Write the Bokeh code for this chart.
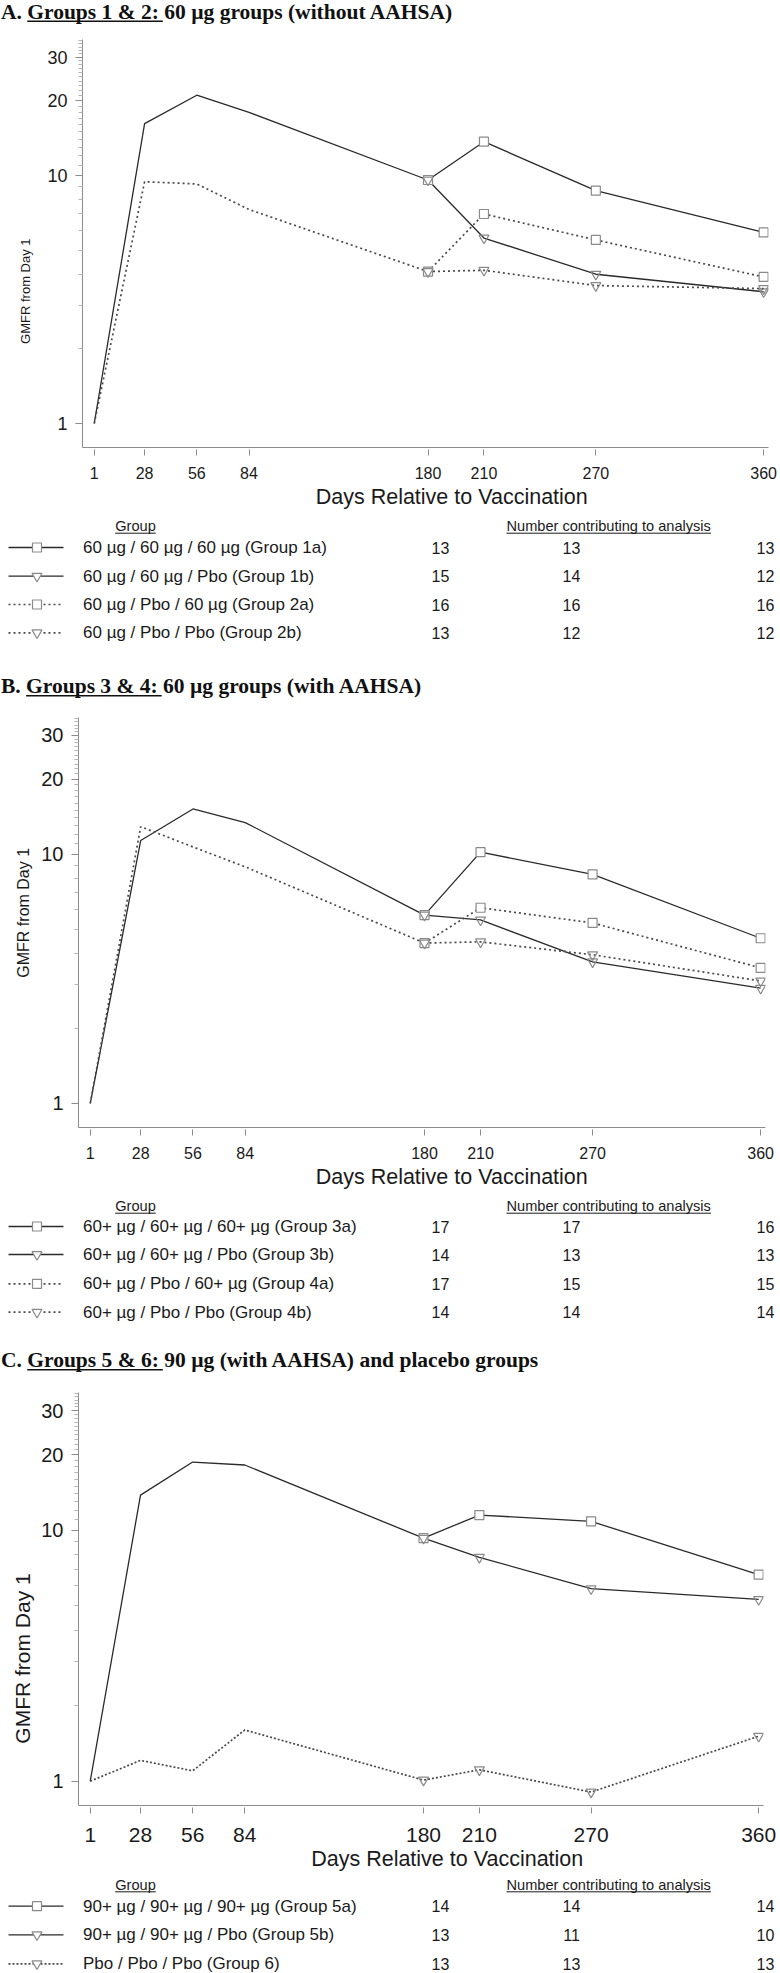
from bokeh.plotting import figure
from bokeh.models import Range1d, FixedTicker, NumeralTickFormatter, Title
from bokeh.layouts import column, row
from bokeh.embed import file_html
from bokeh.resources import INLINE
from bokeh.core.properties import value

# ------------------------------------------------------------------ data
tick_days = [1, 28, 56, 84, 180, 210, 270, 360]
days_pre = [1, 28, 56, 84, 180]
days_post = [180, 210, 270, 360]
days_all = [1, 28, 56, 84, 180, 210, 270, 360]
y_major = [1, 10, 20, 30]
y_minor = [2, 3, 4, 5, 6, 7, 8, 9, 11, 12, 13, 14, 15, 16, 17, 18, 19,
           21, 22, 23, 24, 25, 26, 27, 28, 29, 31, 32, 33, 34, 35]

# Panel A : Groups 1 & 2
g1 = [1.0, 16.2, 21.1, 18.0, 9.6]
g1a = [9.6, 13.7, 8.7, 5.9]
g1b = [9.6, 5.6, 4.0, 3.4]
g2 = [1.0, 9.45, 9.25, 7.3, 4.1]
g2a = [4.1, 7.0, 5.5, 3.9]
g2b = [4.1, 4.15, 3.6, 3.5]

# Panel B : Groups 3 & 4
g3 = [1.0, 11.35, 15.2, 13.4, 5.7]
g3a = [5.7, 10.2, 8.3, 4.6]
g3b = [5.7, 5.45, 3.7, 2.9]
g4 = [1.0, 12.9, 10.7, 8.9, 4.4]
g4a = [4.4, 6.1, 5.3, 3.5]
g4b = [4.4, 4.45, 3.95, 3.1]

# Panel C : Groups 5 & 6
g5 = [1.0, 13.8, 18.7, 18.2, 9.3]
g5a = [9.3, 11.5, 10.85, 6.65]
g5b = [9.3, 7.8, 5.85, 5.3]
g6 = [1.0, 1.21, 1.10, 1.60, 1.01, 1.11, 0.905, 1.51]

titles = ["A. Groups 1 & 2:  60 \u00b5g groups (without AAHSA)",
          "B. Groups 3 & 4:  60 \u00b5g groups (with AAHSA)",
          "C. Groups 5 & 6: 90 \u00b5g (with AAHSA) and placebo groups"]

labels_a = ["60 \u00b5g / 60 \u00b5g / 60 \u00b5g (Group 1a)",
            "60 \u00b5g / 60 \u00b5g / Pbo (Group 1b)",
            "60 \u00b5g / Pbo / 60 \u00b5g (Group 2a)",
            "60 \u00b5g / Pbo / Pbo (Group 2b)"]
na1 = [13, 15, 16, 13]
na2 = [13, 14, 16, 12]
na3 = [13, 12, 16, 12]

labels_b = ["60+ \u00b5g / 60+ \u00b5g / 60+ \u00b5g (Group 3a)",
            "60+ \u00b5g / 60+ \u00b5g / Pbo (Group 3b)",
            "60+ \u00b5g / Pbo  / 60+ \u00b5g (Group 4a)",
            "60+ \u00b5g / Pbo  / Pbo (Group 4b)"]
nb1 = [17, 14, 17, 14]
nb2 = [17, 13, 15, 14]
nb3 = [16, 13, 15, 14]

labels_c = ["90+ \u00b5g / 90+ \u00b5g / 90+ \u00b5g (Group 5a)",
            "90+ \u00b5g / 90+ \u00b5g / Pbo (Group 5b)",
            "Pbo / Pbo / Pbo (Group 6)"]
nc1 = [14, 13, 13]
nc2 = [14, 11, 13]
nc3 = [14, 10, 13]

x_label = "Days Relative to Vaccination"
y_label = "GMFR from Day 1"

# ------------------------------------------------------------------ layout helpers
W = 780
X_MIN, X_MAX = -5.3, 362.6
Y_MIN, Y_MAX = 0.8, 35.4

SOLID = dict(line_color="#2a2a2a", line_width=1.3)
DOT = dict(line_color="#4a4a4a", line_width=1.7, line_dash="2 3")
MK = "#8a8a8a"
TXT = "#1a1a1a"
SANS = "Liberation Sans"


def bare(H):
    p = figure(width=W, height=H, x_range=Range1d(0, W), y_range=Range1d(H, 0),
               output_backend="svg", toolbar_location=None, title=None,
               x_axis_location=None, y_axis_location=None,
               min_border=0, min_border_left=0, min_border_right=0,
               min_border_top=0, min_border_bottom=0)
    p.grid.visible = False
    p.outline_line_color = None
    return p


def title_fig(top, bot, text, base, ul, ul_start_em):
    H = bot - top
    p = bare(H)
    fs = 21.5
    # 'middle' baseline: em-box centre sits ~0.34 em above the baseline
    p.text(x=[0.5], y=[base - top - 0.34 * fs], text=[text],
           text_font=value("Liberation Serif"), text_font_style="bold",
           text_font_size="%.1fpx" % fs, text_baseline="middle",
           text_align="left", text_color="#111111")
    u0 = 0.5 + ul_start_em * fs
    u1 = u0 + 6.306 * fs
    uy = ul - top
    p.segment(x0=[u0], y0=[uy], x1=[u1], y1=[uy], line_color="#111111", line_width=1.5)
    return p


def plot_fig(top, bot, f_top, f_bot, f_left, f_right,
             ytick_fs, xtick_fs, ylab_fs, ylab_center, xlab_center,
             xstand, tstand, ystand, yadj):
    H = bot - top
    bt = round(f_top) - top
    bb = bot - round(f_bot)
    bl = round(f_left)
    br = W - round(f_right)
    p = figure(width=W, height=H, x_range=Range1d(X_MIN, X_MAX),
               y_range=Range1d(Y_MIN, Y_MAX), y_axis_type="log",
               output_backend="svg", toolbar_location=None, title=None,
               min_border_top=bt, min_border_bottom=bb,
               min_border_left=bl, min_border_right=br)
    p.grid.visible = False
    p.outline_line_color = None

    xa = p.xaxis[0]
    xa.ticker = FixedTicker(ticks=tick_days, minor_ticks=[])
    xa.axis_line_color = "#8c8c8c"
    xa.major_tick_line_color = "#8c8c8c"
    xa.major_tick_in = -2
    xa.major_tick_out = 8
    xa.minor_tick_line_color = None
    xa.major_label_standoff = xstand
    xa.major_label_text_font = SANS
    xa.major_label_text_font_size = "%dpx" % xtick_fs
    xa.major_label_text_color = TXT

    ya = p.yaxis[0]
    ya.ticker = FixedTicker(ticks=y_major, minor_ticks=y_minor)
    ya.formatter = NumeralTickFormatter(format="0")
    ya.axis_line_color = "#8c8c8c"
    ya.major_tick_line_color = "#8c8c8c"
    ya.minor_tick_line_color = "#b5b5b5"
    ya.major_tick_in = 0
    ya.major_tick_out = 7
    ya.minor_tick_in = 0
    ya.minor_tick_out = 4
    ya.major_label_standoff = 8
    ya.major_label_text_font = SANS
    ya.major_label_text_font_size = "%dpx" % ytick_fs
    ya.major_label_text_color = TXT

    # x axis title (below), positioned along the frame
    xl_len = 12.727 * 21.5
    xoff = xlab_center - xl_len / 2 - round(f_left)
    p.add_layout(Title(text=x_label, align="left", offset=xoff,
                       text_font=SANS, text_font_style="normal",
                       text_font_size="21.5px", text_color=TXT, standoff=tstand), "below")

    # y axis title (left)
    yl_len = 8.11 * ylab_fs
    yoff = (f_bot - ylab_center) - yl_len / 2 + yadj
    p.add_layout(Title(text=y_label, align="left", offset=yoff,
                       text_font=SANS, text_font_style="normal",
                       text_font_size="%dpx" % ylab_fs, text_color=TXT,
                       standoff=ystand), "left")
    return p


def add_group(p, pre, post_a, post_b, solid=True):
    st = SOLID if solid else DOT
    p.line(days_pre, pre, **st)
    p.line(days_post, post_a, **st)
    p.line(days_post, post_b, **st)
    p.scatter(days_post, post_a, marker="square", size=9,
              fill_color="white", line_color=MK, line_width=1.2)
    p.scatter(days_post, post_b, marker="inverted_triangle", size=10,
              fill_alpha=0, line_color=MK, line_width=1.2)


def legend_fig(top, bot, head_base, rows, labels, n1, n2, n3, styles):
    H = bot - top
    p = bare(H)
    hfs = 14.6
    hb = head_base - top
    hm = hb - 0.34 * hfs
    gx = 135
    p.text(x=[gx], y=[hm], text=["Group"], text_font=value(SANS),
           text_font_size="%.1fpx" % hfs, text_align="center",
           text_baseline="middle", text_color=TXT)
    gw = 2.779 * hfs
    p.segment(x0=[gx - gw / 2], y0=[hb + 2], x1=[gx + gw / 2], y1=[hb + 2],
              line_color=TXT, line_width=1)
    nx = 506
    p.text(x=[nx], y=[hm], text=["Number contributing to analysis"],
           text_font=value(SANS), text_font_size="%.1fpx" % hfs,
           text_align="left", text_baseline="middle", text_color=TXT)
    nw = 14.005 * hfs
    p.segment(x0=[nx], y0=[hb + 2], x1=[nx + nw], y1=[hb + 2],
              line_color=TXT, line_width=1)

    ys = [r - top for r in rows]
    p.text(x=[82.5] * len(ys), y=ys, text=labels, text_font=value(SANS),
           text_font_size="17px", text_align="left", text_baseline="middle",
           text_color=TXT)
    for col, vals in ((440, n1), (571, n2), (765, n3)):
        p.text(x=[col] * len(ys), y=ys, text=[str(v) for v in vals],
               text_font=value(SANS), text_font_size="16px", text_align="center",
               text_baseline="middle", text_color=TXT)
    for yy, (solid, mk, dash) in zip(ys, styles):
        st = dict(SOLID) if solid else dict(DOT)
        if not solid and dash:
            st["line_dash"] = dash
        p.segment(x0=[8], y0=[yy], x1=[63], y1=[yy], **st)
        if mk == "square":
            p.scatter([36.5], [yy], marker="square", size=9,
                      fill_color="white", line_color=MK, line_width=1.2)
        else:
            p.scatter([36.5], [yy], marker="inverted_triangle", size=10,
                      fill_color="white", line_color=MK, line_width=1.2)
    return p


# ------------------------------------------------------------------ panel A
tA = title_fig(0, 26, titles[0], 18.8, 20.8, 1.222)
pA = plot_fig(26, 515, 39.3, 447.3, 82.3, 768, 18, 16, 13, 291, 452, 11, 2, 23, 0)
add_group(pA, g1, g1a, g1b, solid=True)
add_group(pA, g2, g2a, g2b, solid=False)
lA = legend_fig(515, 662, 530.7, [547, 575.7, 604, 632.3], labels_a, na1, na2, na3,
                [(True, "square", None), (True, "tri", None),
                 (False, "square", None), (False, "tri", None)])

# ------------------------------------------------------------------ panel B
tB = title_fig(662, 703, titles[1], 693.3, 695.3, 1.167)
pB = plot_fig(703, 1194, 717.3, 1126.7, 78, 765, 20, 16, 16, 912, 452, 11, 2, 13, 0)
add_group(pB, g3, g3a, g3b, solid=True)
add_group(pB, g4, g4a, g4b, solid=False)
lB = legend_fig(1194, 1330, 1210.7, [1226, 1254, 1283.3, 1311.7], labels_b, nb1, nb2, nb3,
                [(True, "square", None), (True, "tri", None),
                 (False, "square", None), (False, "tri", None)])

# ------------------------------------------------------------------ panel C
tC = title_fig(1330, 1379, titles[2], 1366.7, 1369.2, 1.222)
pC = plot_fig(1379, 1878, 1391.6, 1805, 77.7, 763.3, 20, 21, 21, 1614, 447.5, 14, 0, 10, -44)
add_group(pC, g5, g5a, g5b, solid=True)
pC.line(days_all, g6, line_color="#4a4a4a", line_width=1.7, line_dash="2 2")
pC.scatter(days_post, g6[4:], marker="inverted_triangle", size=10,
           fill_alpha=0, line_color=MK, line_width=1.2)
lC = legend_fig(1878, 1972, 1889.3, [1905.7, 1934.3, 1963.3], labels_c, nc1, nc2, nc3,
                [(True, "square", None), (True, "tri", None), (False, "tri", "2 2")])

# each figure wrapped in its own row so the column does not align their frames
layout = column(*[row(f, spacing=0) for f in (tA, pA, lA, tB, pB, lB, tC, pC, lC)],
                spacing=0)

with open("out.html", "w") as f:
    f.write(file_html(layout, INLINE))
